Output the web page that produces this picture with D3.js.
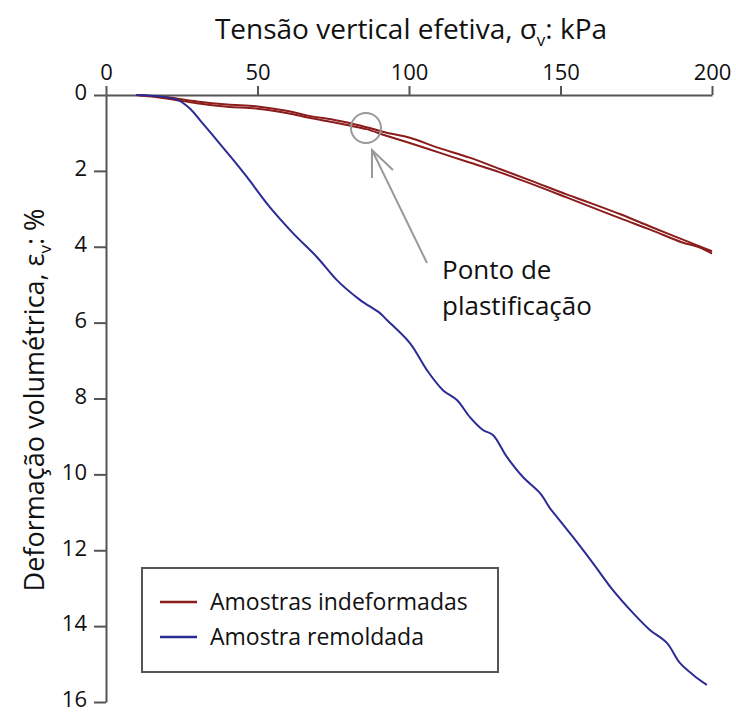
<!DOCTYPE html>
<html>
<head>
<meta charset="utf-8">
<script src="https://cdn.jsdelivr.net/npm/d3@7"></script>
<style>
  body { margin: 0; background: #fff; }
  text { font-family: "Open Sans", "Noto Sans", sans-serif; }
</style>
</head>
<body>
<div id="chart"></div>
<script>
// Dados (tensão kPa, deformação %)
const tensaoRemold = [10, 18, 24, 28, 31, 35, 38, 42, 46.5, 54, 61.7, 69.6, 76.2, 83.8, 90.4, 92.7, 100.3, 105.9, 111.2, 115.8, 120.1, 124.4, 127.7, 132.3, 137.6, 143.2, 146.5, 148.8, 154.1, 160.7, 167.3, 173.9, 179.5, 185.1, 189.4, 194, 198.3];
const deformRemold = [0, 0.04, 0.14, 0.38, 0.66, 1.04, 1.33, 1.71, 2.16, 2.95, 3.64, 4.27, 4.88, 5.4, 5.75, 5.93, 6.54, 7.25, 7.78, 8.04, 8.49, 8.83, 8.96, 9.54, 10.07, 10.49, 10.89, 11.12, 11.65, 12.34, 13.05, 13.65, 14.1, 14.44, 14.97, 15.3, 15.55];

const tensaoIndef1 = [10, 20, 30, 40, 50, 60, 67, 75, 80, 86, 92, 100, 110, 120, 130, 140, 152, 160, 170, 180, 190, 200];
const deformIndef1 = [0, 0.06, 0.17, 0.25, 0.3, 0.42, 0.55, 0.65, 0.73, 0.85, 0.98, 1.12, 1.4, 1.65, 1.95, 2.25, 2.62, 2.85, 3.15, 3.48, 3.8, 4.12];
const tensaoIndef2 = [10, 20, 30, 40, 50, 60, 67, 75, 80, 86, 92, 100, 110, 120, 130, 140, 152, 160, 170, 180, 190, 196, 200];
const deformIndef2 = [0, 0.09, 0.22, 0.31, 0.36, 0.48, 0.6, 0.72, 0.8, 0.9, 1.06, 1.26, 1.52, 1.78, 2.04, 2.33, 2.7, 2.95, 3.26, 3.56, 3.88, 4.02, 4.18];

const ticksX = [0, 50, 100, 150, 200];
const ticksY = [0, 2, 4, 6, 8, 10, 12, 14, 16];

const ponto = { tensao: 85.8, deform: 0.87 };

const largura = 736, altura = 712;
const x = d3.scaleLinear().domain([0, 200]).range([106, 712]);
const y = d3.scaleLinear().domain([0, 16]).range([95, 702]);

const svg = d3.select("#chart").append("svg")
  .attr("width", largura)
  .attr("height", altura);

const corEixo = "#555";

// Eixo superior (x)
const eixoX = svg.append("g")
  .attr("transform", `translate(0,${y(0)})`)
  .call(d3.axisTop(x).tickValues(ticksX).tickSize(9).tickSizeOuter(0).tickPadding(6));
eixoX.select(".domain").attr("stroke", corEixo).attr("stroke-width", 2);
eixoX.selectAll(".tick line").attr("stroke", corEixo).attr("stroke-width", 2);
eixoX.selectAll(".tick text").attr("font-size", 22).attr("fill", "#111")
  .style("font-family", '"Open Sans", sans-serif');

// Eixo esquerdo (y)
const eixoY = svg.append("g")
  .attr("transform", `translate(${x(0)},0)`)
  .call(d3.axisLeft(y).tickValues(ticksY).tickSize(12).tickSizeOuter(0).tickPadding(7));
eixoY.select(".domain").attr("stroke", corEixo).attr("stroke-width", 2);
eixoY.selectAll(".tick line").attr("stroke", corEixo).attr("stroke-width", 2);
eixoY.selectAll(".tick text").attr("font-size", 22).attr("fill", "#111")
  .attr("dy", "0.22em")
  .style("font-family", '"Open Sans", sans-serif');

// Linhas
const linha = d3.line().x(d => x(d[0])).y(d => y(d[1])).curve(d3.curveCatmullRom);

const series = [
  { t: tensaoIndef1, d: deformIndef1, cor: "#8b1c1c" },
  { t: tensaoIndef2, d: deformIndef2, cor: "#8b1c1c" },
  { t: tensaoRemold, d: deformRemold, cor: "#2b2b96" }
];
series.forEach(s => {
  svg.append("path")
    .datum(s.t.map((v, i) => [v, s.d[i]]))
    .attr("d", linha)
    .attr("fill", "none")
    .attr("stroke", s.cor)
    .attr("stroke-width", 2);
});

// Ponto de plastificação
const cx = x(ponto.tensao), cy = y(ponto.deform);
svg.append("circle")
  .attr("cx", cx).attr("cy", cy).attr("r", 15)
  .attr("fill", "none").attr("stroke", "#999").attr("stroke-width", 2);

const tip = [cx + 6, cy + 22];
svg.append("line")
  .attr("x1", tip[0]).attr("y1", tip[1])
  .attr("x2", cx + 61).attr("y2", cy + 135)
  .attr("stroke", "#999").attr("stroke-width", 2);
svg.append("polyline")
  .attr("points", `${tip[0]},${tip[1] + 28} ${tip[0]},${tip[1]} ${tip[0] + 21},${tip[1] + 20}`)
  .attr("fill", "none").attr("stroke", "#999").attr("stroke-width", 2);

svg.append("text").attr("x", 442).attr("y", 279).attr("font-size", 26).attr("fill", "#111").text("Ponto de");
svg.append("text").attr("x", 442).attr("y", 315).attr("font-size", 26).attr("fill", "#111").text("plastificação");

// Títulos dos eixos
const tituloX = svg.append("text")
  .attr("x", 411).attr("y", 39)
  .attr("text-anchor", "middle")
  .attr("font-size", 28).attr("fill", "#111");
tituloX.append("tspan").text("Tensão vertical efetiva, σ");
tituloX.append("tspan").attr("font-size", 17).attr("dy", 7).text("v");
tituloX.append("tspan").attr("dy", -7).text(": kPa");

const tituloY = svg.append("text")
  .attr("transform", "translate(44,400) rotate(-90)")
  .attr("text-anchor", "middle")
  .attr("font-size", 27).attr("fill", "#111");
tituloY.append("tspan").text("Deformação volumétrica, ε");
tituloY.append("tspan").attr("font-size", 17).attr("dy", 7).text("v");
tituloY.append("tspan").attr("dy", -7).text(": %");

// Legenda
const legenda = svg.append("g");
legenda.append("rect")
  .attr("x", 142).attr("y", 568).attr("width", 356).attr("height", 104)
  .attr("fill", "#fff").attr("stroke", "#555").attr("stroke-width", 2);
const itens = [
  { nome: "Amostras indeformadas", cor: "#8b1c1c" },
  { nome: "Amostra remoldada", cor: "#2b2b96" }
];
itens.forEach((it, i) => {
  const ly = 602 + i * 35;
  legenda.append("line")
    .attr("x1", 160).attr("x2", 197).attr("y1", ly).attr("y2", ly)
    .attr("stroke", it.cor).attr("stroke-width", 2.5);
  legenda.append("text")
    .attr("x", 210).attr("y", ly + 8)
    .attr("font-size", 23).attr("fill", "#111")
    .text(it.nome);
});
</script>
</body>
</html>
